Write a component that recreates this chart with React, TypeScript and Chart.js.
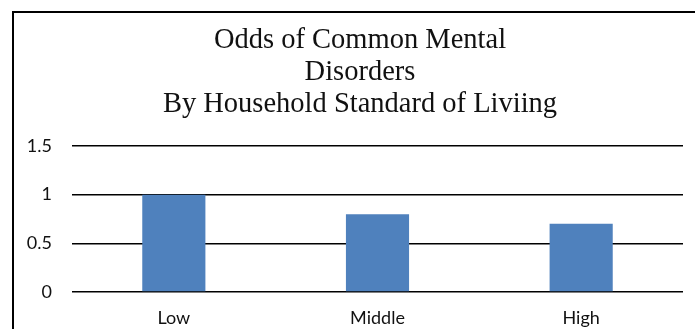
import React, { useEffect, useRef } from "react";
import { Chart, registerables } from "chart.js";

Chart.register(...registerables);

const categories = ["Low", "Middle", "High"];
const oddsValues = [1.0, 0.8, 0.7];
const titleLines = ["Odds of Common Mental", "Disorders", "By Household Standard of Liviing"];
const yTickMin = 0;
const yTickMax = 1.5;
const yTickStep = 0.5;

export default function App() {
  const canvasRef = useRef<HTMLCanvasElement | null>(null);

  useEffect(() => {
    const canvas = canvasRef.current;
    if (!canvas) return;
    const chart = new Chart(canvas, {
      type: "bar",
      data: {
        labels: categories,
        datasets: [
          {
            data: oddsValues,
            backgroundColor: "#4F81BD",
            borderWidth: 0,
            categoryPercentage: 1,
            barPercentage: 0.31,
          },
        ],
      },
      options: {
        animation: false,
        responsive: true,
        maintainAspectRatio: false,
        layout: { padding: 0 },
        plugins: {
          legend: { display: false },
          tooltip: { enabled: false },
          title: {
            display: true,
            text: titleLines,
            color: "#111",
            font: {
              family: "'Liberation Serif', 'Times New Roman', serif",
              size: 28.5,
              weight: "normal",
              lineHeight: 32 / 28.5,
            },
            padding: { top: 12, bottom: 25 },
          },
        },
        scales: {
          x: {
            grid: { display: false, drawTicks: false },
            border: { display: false },
            ticks: {
              color: "#111",
              font: { family: "Lato, 'Noto Sans', sans-serif", size: 18 },
              padding: 15,
            },
            afterFit: (scale: any) => {
              scale.height = 37;
            },
          },
          y: {
            min: yTickMin,
            max: yTickMax,
            grid: { color: "#000", lineWidth: 1.5, drawTicks: false },
            border: { display: false },
            ticks: {
              stepSize: yTickStep,
              color: "#111",
              font: { family: "Lato, 'Noto Sans', sans-serif", size: 18 },
              padding: 20,
              callback: (value: any) => String(Number(value)),
            },
            afterFit: (scale: any) => {
              scale.width = 58;
            },
          },
          // empty right-hand margin so the plot stops short of the frame
          yRight: {
            position: "right",
            grid: { display: false, drawTicks: false },
            border: { display: false },
            ticks: { display: false },
            afterFit: (scale: any) => {
              scale.width = 23;
            },
          },
        },
      },
    });
    return () => chart.destroy();
  }, []);

  return (
    <div
      style={{
        position: "fixed",
        left: 0,
        top: 0,
        width: 695,
        height: 329,
        overflow: "hidden",
        background: "#fff",
      }}
    >
      <div
        style={{
          position: "absolute",
          left: 12,
          top: 11,
          width: 720,
          height: 400,
          boxSizing: "border-box",
          borderLeft: "2px solid #000",
          borderTop: "2px solid #000",
        }}
      />
      <div style={{ position: "absolute", left: 14, top: 13, width: 692, height: 316 }}>
        <canvas ref={canvasRef} />
      </div>
    </div>
  );
}
